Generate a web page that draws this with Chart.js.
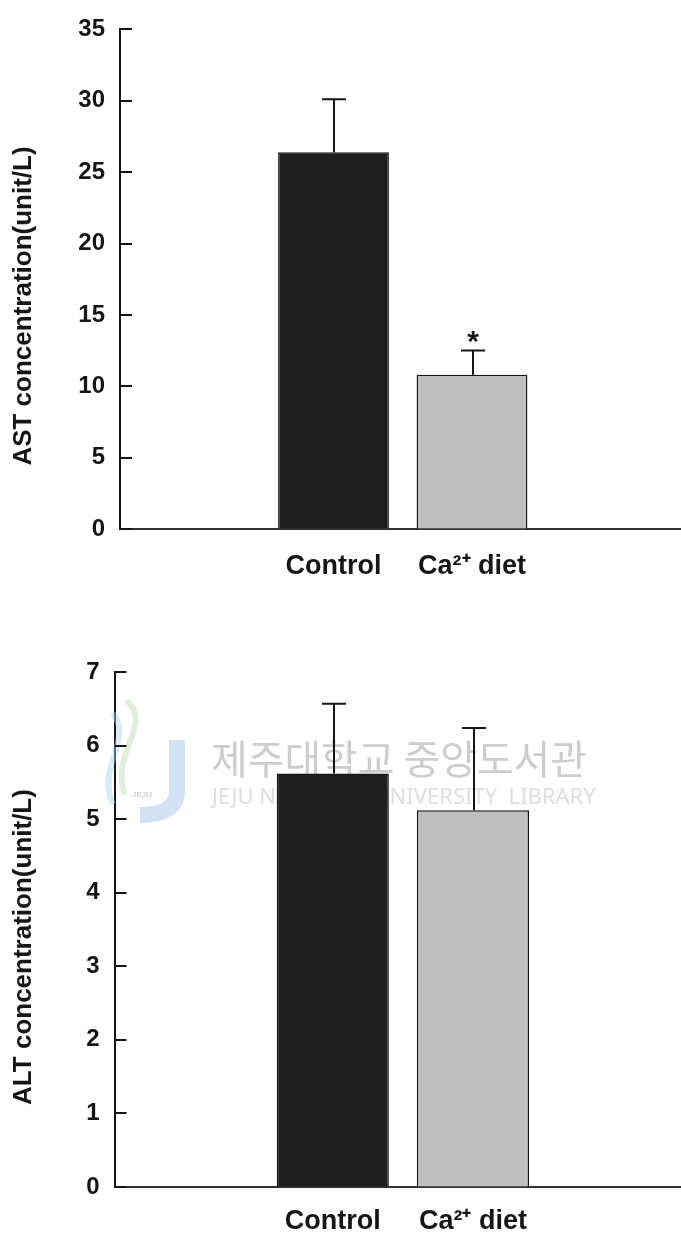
<!DOCTYPE html>
<html>
<head>
<meta charset="utf-8">
<script src="https://cdn.jsdelivr.net/npm/chart.js@4.4.1/dist/chart.umd.min.js"></script>
<style>
  html, body { margin: 0; padding: 0; background: #fff; width: 681px; height: 1236px; overflow: hidden; }
  .panel { position: absolute; left: 0; width: 681px; }
  #ast-panel { top: 0; height: 610px; }
  #alt-panel { top: 620px; height: 616px; }
</style>
</head>
<body>
<div class="panel" id="ast-panel"><canvas id="ast-chart"></canvas></div>
<div class="panel" id="alt-panel"><canvas id="alt-chart"></canvas></div>
<script>
// ── Data ───────────────────────────────────────────────────────────────────
const CATEGORIES = ['Control', 'Ca²⁺ diet'];
const BAR_COLORS = ['#1f1f1f', '#bfbfbf'];

const AST_MEAN  = [26.4, 10.8];
const AST_ERR   = [3.7, 1.7];
const AST_MARKS = ['', '*'];
const AST_TITLE = 'AST concentration(unit/L)';

const ALT_MEAN  = [5.62, 5.12];
const ALT_ERR   = [0.95, 1.12];
const ALT_MARKS = ['', ''];
const ALT_TITLE = 'ALT concentration(unit/L)';

const WATERMARK_KO = '제주대학교 중앙도서관';
const WATERMARK_EN = 'JEJU NATIONAL UNIVERSITY  LIBRARY';

const FONT = '"Liberation Sans", Arial, sans-serif';
const INK  = '#151515';

// ── Plugins ────────────────────────────────────────────────────────────────
const errorBars = {
  id: 'errorBars',
  afterDatasetsDraw(chart, args, o) {
    const { ctx, scales: { x, y } } = chart;
    ctx.save();
    ctx.strokeStyle = INK;
    ctx.lineWidth = 2;
    o.means.forEach((m, i) => {
      const px   = Math.round(x.getPixelForValue(i + 1)) + 1;
      const yBar = y.getPixelForValue(m);
      const yTop = y.getPixelForValue(m + o.errs[i]);
      ctx.beginPath();
      ctx.moveTo(px, yBar);      ctx.lineTo(px, yTop);
      ctx.moveTo(px - 12, yTop); ctx.lineTo(px + 12, yTop);
      ctx.stroke();
      if (o.marks[i]) {
        ctx.fillStyle = INK;
        ctx.font = `bold 30px ${FONT}`;
        ctx.textAlign = 'center';
        ctx.textBaseline = 'alphabetic';
        ctx.fillText(o.marks[i], px, yTop);
      }
    });
    ctx.restore();
  },
};

// tick marks point into the plot
const innerTicks = {
  id: 'innerTicks',
  afterDraw(chart) {
    const { ctx, chartArea, scales: { y } } = chart;
    ctx.save();
    ctx.strokeStyle = INK;
    ctx.lineWidth = 2;
    y.ticks.forEach(t => {
      const py = Math.round(y.getPixelForValue(t.value));
      ctx.beginPath();
      ctx.moveTo(chartArea.left, py);
      ctx.lineTo(chartArea.left + 12, py);
      ctx.stroke();
    });
    ctx.restore();
  },
};

const yTitle = {
  id: 'yTitle',
  afterDraw(chart, args, o) {
    const { ctx } = chart;
    ctx.save();
    ctx.translate(o.x, o.y);
    ctx.rotate(-Math.PI / 2);
    ctx.fillStyle = INK;
    ctx.font = `bold 26px ${FONT}`;
    ctx.textAlign = 'center';
    ctx.textBaseline = 'middle';
    ctx.fillText(o.text, 0, 0);
    ctx.restore();
  },
};

const watermark = {
  id: 'watermark',
  beforeDatasetsDraw(chart, args, o) {
    if (!o.show) return;
    const { ctx } = chart;
    const oy = o.offsetY;
    ctx.save();
    // logo: soft swirls + J
    ctx.lineCap = 'round';
    ctx.globalAlpha = 0.45;
    ctx.strokeStyle = '#b9dcb0';
    ctx.lineWidth = 6;
    ctx.beginPath();
    ctx.moveTo(128, 702 - oy);
    ctx.bezierCurveTo(152, 725 - oy, 112, 752 - oy, 124, 792 - oy);
    ctx.stroke();
    ctx.strokeStyle = '#a9d3ea';
    ctx.beginPath();
    ctx.moveTo(114, 715 - oy);
    ctx.bezierCurveTo(132, 740 - oy, 98, 765 - oy, 112, 802 - oy);
    ctx.stroke();
    ctx.globalAlpha = 0.4;
    ctx.strokeStyle = '#8fb4e2';
    ctx.lineWidth = 16;
    ctx.lineCap = 'butt';
    ctx.beginPath();
    ctx.moveTo(177, 740 - oy);
    ctx.lineTo(177, 792 - oy);
    ctx.quadraticCurveTo(176, 815 - oy, 140, 815 - oy);
    ctx.stroke();
    ctx.globalAlpha = 0.5;
    ctx.fillStyle = '#9aa3b0';
    ctx.font = `bold 8px ${FONT}`;
    ctx.textAlign = 'center';
    ctx.fillText('JEJU', 142, 797 - oy);
    ctx.globalAlpha = 1;
    // text
    ctx.textAlign = 'left';
    ctx.textBaseline = 'alphabetic';
    ctx.fillStyle = '#cdcdcd';
    ctx.font = '36px "Noto Sans CJK KR", sans-serif';
    let w = ctx.measureText(WATERMARK_KO).width;
    ctx.font = `${(36 * 376 / w).toFixed(1)}px "Noto Sans CJK KR", sans-serif`;
    ctx.fillText(WATERMARK_KO, 211, 774 - oy);
    ctx.fillStyle = '#dedede';
    ctx.font = `20px "Noto Sans", sans-serif`;
    w = ctx.measureText(WATERMARK_EN).width;
    ctx.font = `${(20 * 383 / w).toFixed(1)}px "Noto Sans", sans-serif`;
    ctx.fillText(WATERMARK_EN, 212, 804 - oy);
    ctx.restore();
  },
};

// ── Chart factory ──────────────────────────────────────────────────────────
function buildChart(canvasId, cfg) {
  const ctx = document.getElementById(canvasId).getContext('2d');
  return new Chart(ctx, {
    type: 'bar',
    data: {
      datasets: [{
        data: cfg.means.map((v, i) => ({ x: i + 1, y: v })),
        backgroundColor: BAR_COLORS,
        borderColor: INK,
        borderWidth: 1.5,
        barPercentage: 0.8,
        categoryPercentage: 1.0,
      }],
    },
    options: {
      responsive: true,
      maintainAspectRatio: false,
      animation: false,
      devicePixelRatio: 1,
      layout: { padding: { top: cfg.padTop, left: 0, right: 0, bottom: 0 } },
      plugins: {
        legend: { display: false },
        tooltip: { enabled: false },
        errorBars: { means: cfg.means, errs: cfg.errs, marks: cfg.marks },
        yTitle: { text: cfg.title, x: 24, y: cfg.titleY },
        watermark: { show: !!cfg.watermark, offsetY: cfg.offsetY },
      },
      scales: {
        x: {
          type: 'linear',
          min: cfg.xMin,
          max: cfg.xMax,
          offset: false,
          afterFit: s => { s.height = cfg.xHeight; },
          afterBuildTicks: s => { s.ticks = CATEGORIES.map((_, i) => ({ value: i + 1 })); },
          grid: { display: true, drawOnChartArea: false, drawTicks: false },
          border: { display: true, color: '#333', width: 2 },
          ticks: {
            autoSkip: false,
            maxRotation: 0,
            padding: cfg.xPad,
            color: INK,
            font: { family: FONT, size: 27, weight: 'bold' },
            callback: (v, i) => CATEGORIES[i],
          },
        },
        y: {
          min: 0,
          max: cfg.yMax,
          afterFit: s => { s.width = cfg.yWidth; },
          grid: { display: true, drawOnChartArea: false, drawTicks: false },
          border: { display: true, color: INK, width: 2 },
          ticks: {
            stepSize: cfg.yStep,
            padding: 15,
            color: INK,
            font: { family: FONT, size: 24, weight: 'bold' },
          },
        },
      },
    },
    plugins: [watermark, errorBars, innerTicks, yTitle],
  });
}

buildChart('ast-chart', {
  means: AST_MEAN, errs: AST_ERR, marks: AST_MARKS, title: AST_TITLE,
  yMax: 35, yStep: 5, padTop: 25, xHeight: 81, xPad: 21, yWidth: 120,
  xMin: -0.5415, xMax: 3.509, titleY: 306, watermark: false, offsetY: 0,
});

buildChart('alt-chart', {
  means: ALT_MEAN, errs: ALT_ERR, marks: ALT_MARKS, title: ALT_TITLE,
  yMax: 7, yStep: 1, padTop: 52, xHeight: 49, xPad: 18, yWidth: 114.5,
  xMin: -0.557, xMax: 3.484, titleY: 327, watermark: true, offsetY: 620,
});
</script>
</body>
</html>
